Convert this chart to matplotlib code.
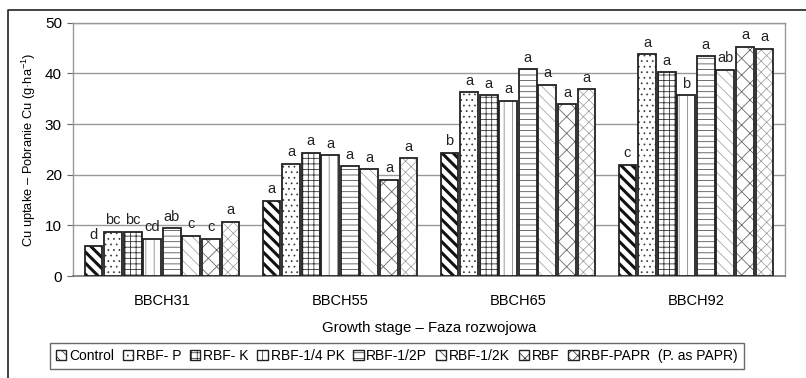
import matplotlib
matplotlib.use("Agg")
import matplotlib.pyplot as plt
import numpy as np
from matplotlib.lines import Line2D
from matplotlib.patches import Patch

plt.rcParams['font.family'] = ['Liberation Sans', 'DejaVu Sans']
plt.rcParams['mathtext.fontset'] = 'custom'
plt.rcParams['mathtext.rm'] = 'Liberation Sans'
plt.rcParams['mathtext.it'] = 'Liberation Sans'
plt.rcParams['hatch.linewidth'] = 0.5

stages = ["BBCH31", "BBCH55", "BBCH65", "BBCH92"]
treatments = ["Control", "RBF- P", "RBF- K", "RBF-1/4 PK", "RBF-1/2P",
              "RBF-1/2K", "RBF", "RBF-PAPR  (P. as PAPR)"]

control   = [5.9, 14.9, 24.3, 22.0]
rbf_p     = [8.7, 22.1, 36.3, 43.8]
rbf_k     = [8.7, 24.3, 35.7, 40.2]
rbf_14pk  = [7.4, 23.8, 34.6, 35.7]
rbf_12p   = [9.4, 21.7, 40.8, 43.4]
rbf_12k   = [7.9, 21.1, 37.8, 40.7]
rbf       = [7.4, 19.0, 33.9, 45.2]
rbf_papr  = [10.7, 23.2, 36.9, 44.9]

letters = [
    ["d", "a", "b", "c"],
    ["bc", "a", "a", "a"],
    ["bc", "a", "a", "a"],
    ["cd", "a", "a", "b"],
    ["ab", "a", "a", "a"],
    ["c", "a", "a", "ab"],
    ["c", "a", "a", "a"],
    ["a", "a", "a", "a"],
]

series = [control, rbf_p, rbf_k, rbf_14pk, rbf_12p, rbf_12k, rbf, rbf_papr]

# hatch pattern, hatch colour, hatch line width per treatment
styles = [
    ("\\\\\\", "#111111", 2.2),
    ("...", "#333333", 0.5),
    ("+++", "#333333", 0.6),
    ("||", "#888888", 0.6),
    ("---", "#555555", 0.6),
    ("\\\\\\", "#999999", 0.5),
    ("xx", "#666666", 0.6),
    ("xxx", "#999999", 0.5),
]

fig = plt.figure(figsize=(8.06, 3.78), dpi=100)
ax = fig.add_axes([73/806, 1 - 276/378, (785 - 73)/806, (276 - 22.7)/378])

x = np.arange(len(stages))
width = 0.1
pitch = 0.11


def set_hlw(artist, lw):
    if hasattr(artist, "set_hatch_linewidth"):
        artist.set_hatch_linewidth(lw)


def hatched_bar(a, xs, hs, hatch, hcol, hlw, zorder=3):
    bars = a.bar(xs, hs, width, color="white", edgecolor=hcol, hatch=hatch,
                 linewidth=0, zorder=zorder)
    for b in bars:
        set_hlw(b, hlw)
    a.bar(xs, hs, width, fill=False, edgecolor="#222222", linewidth=1.3,
          zorder=zorder + 1)
    return bars


for i, (vals, (h, hc, hlw)) in enumerate(zip(series, styles)):
    xs = x + (i - 3.5) * pitch
    hatched_bar(ax, xs, vals, h, hc, hlw)
    for xi, v, lab in zip(xs, vals, letters[i]):
        ax.text(xi, v + 0.9, lab, ha="center", va="bottom", fontsize=10.5,
                color="#222222")

ax.set_xlim(-0.5, 3.5)
ax.set_ylim(0, 50)
ax.set_yticks(range(0, 51, 10))
ax.set_xticks(x)
ax.set_xticklabels(stages, fontsize=10.5)
ax.tick_params(axis="x", length=0, pad=13)
ax.tick_params(axis="y", length=4, width=0.8, color="#666666", labelsize=11, pad=4)
ax.yaxis.grid(True, color="#999999", linewidth=1.0, zorder=0)
ax.set_axisbelow(True)
for side in ["top", "right", "left"]:
    ax.spines[side].set_color("#999999")
    ax.spines[side].set_linewidth(1.0)
ax.spines["bottom"].set_color("#777777")
ax.spines["bottom"].set_linewidth(1.2)

ax.set_xlabel("Growth stage \u2013 Faza rozwojowa", fontsize=10.8, labelpad=9)
ax.set_ylabel("Cu uptake \u2013 Pobranie Cu (g\u00b7ha$^{-1}$)", fontsize=9.3,
              labelpad=5)

# outer frame (top and left edges)
fig.add_artist(Line2D([8/806, 8/806, 1.0], [0.0, 1 - 10/378, 1 - 10/378],
                      transform=fig.transFigure, color="#222222", linewidth=1.2))

handles = []
for (h, hc, hlw) in styles:
    p = Patch(facecolor="white", edgecolor="#222222", hatch=h, linewidth=1.0)
    set_hlw(p, min(hlw, 1.2))
    handles.append(p)
leg = fig.legend(handles, treatments, loc="center", ncol=8,
                 bbox_to_anchor=(397/806, 1 - 356/378), fontsize=10,
                 frameon=True, fancybox=False, edgecolor="#444444",
                 handlelength=0.75, handleheight=0.75, handletextpad=0.2,
                 columnspacing=0.62, borderpad=0.45, borderaxespad=0)
leg.get_frame().set_linewidth(1.0)

fig.savefig("out.png", dpi=100)
